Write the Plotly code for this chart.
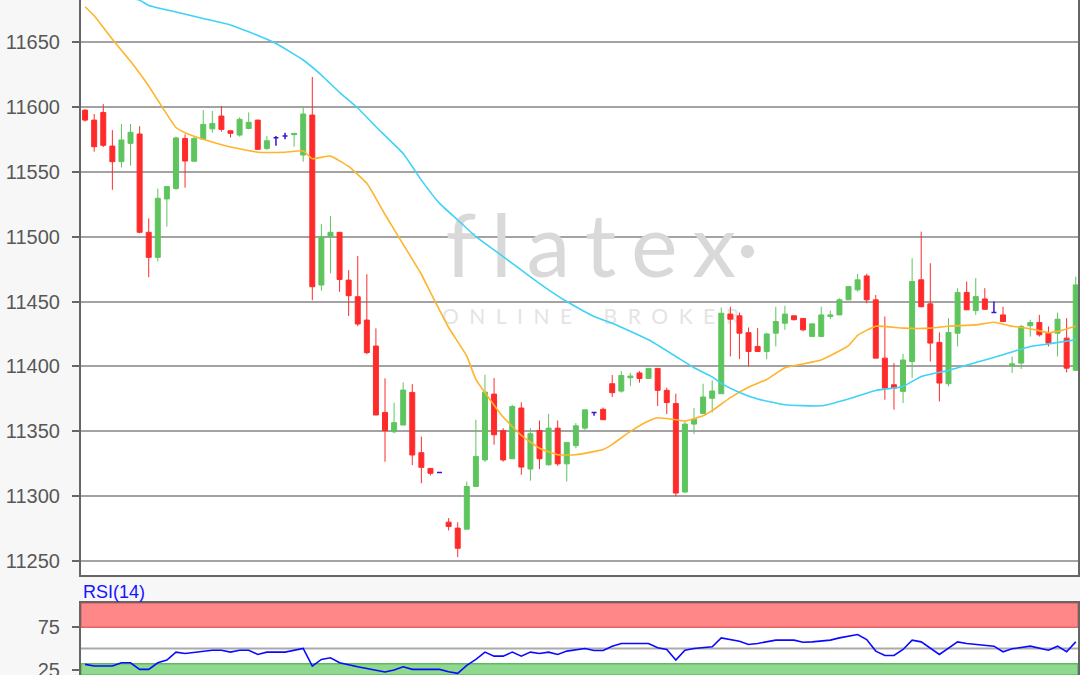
import plotly.graph_objects as go

# ---------------- data ----------------
opens = [11597.4, 11589.7, 11595.6, 11569.7, 11557.7, 11571.8, 11579.0, 11503.3, 11484.0, 11529.0,
         11537.0, 11575.6, 11558.0, 11575.0, 11583.0, 11592.8, 11581.5, 11578.2, 11583.3, 11589.7,
         11567.9, 11576.2, 11577.4, 11578.5, 11562.8, 11593.6, 11462.7, 11500.0, 11503.3, 11466.5,
         11453.7, 11435.7, 11415.7, 11364.6, 11349.7, 11354.9, 11380.0, 11333.6, 11321.5, 11318.4,
         11280.1, 11275.5, 11274.7, 11307.6, 11328.0, 11378.7, 11350.7, 11328.9, 11368.0, 11321.0,
         11350.7, 11324.3, 11352.5, 11325.0, 11339.0, 11352.5, 11364.6, 11367.0, 11386.7, 11381.0,
         11391.3, 11395.0, 11390.8, 11398.5, 11381.6, 11371.4, 11303.3, 11355.6, 11363.8, 11375.5,
         11379.0, 11440.3, 11439.0, 11426.0, 11415.4, 11411.5, 11425.6, 11433.3, 11439.0, 11437.0,
         11423.0, 11423.0, 11438.5, 11439.7, 11451.3, 11459.0, 11469.7, 11451.3, 11406.4, 11385.9,
         11380.8, 11403.8, 11466.7, 11448.2, 11418.5, 11386.7, 11425.6, 11457.0, 11443.0, 11452.0,
         11441.5, 11439.7, 11400.5, 11402.6, 11431.3, 11433.8, 11425.6, 11425.6, 11421.8, 11397.0]
highs = [11598.0, 11594.4, 11602.0, 11582.0, 11586.7, 11586.7, 11585.0, 11514.0, 11537.0, 11538.5,
         11577.0, 11578.7, 11577.0, 11597.4, 11596.7, 11600.5, 11581.5, 11591.8, 11595.6, 11590.0,
         11577.4, 11577.4, 11580.0, 11579.5, 11600.0, 11623.0, 11509.6, 11515.8, 11503.3, 11474.2,
         11485.0, 11471.0, 11429.3, 11390.8, 11372.0, 11387.7, 11386.4, 11346.0, 11321.5, 11318.4,
         11283.2, 11280.0, 11311.4, 11359.0, 11393.6, 11391.0, 11352.5, 11370.5, 11372.3, 11352.5,
         11358.4, 11363.5, 11358.4, 11341.5, 11356.4, 11366.6, 11364.6, 11368.3, 11393.4, 11396.4,
         11395.0, 11396.4, 11398.5, 11398.5, 11383.7, 11379.0, 11357.6, 11367.9, 11386.7, 11389.3,
         11445.4, 11446.0, 11441.5, 11430.0, 11429.5, 11426.0, 11446.0, 11446.7, 11439.0, 11437.0,
         11432.8, 11446.0, 11443.0, 11452.6, 11462.0, 11471.3, 11471.3, 11455.0, 11438.5, 11402.6,
         11409.7, 11483.3, 11503.8, 11479.5, 11426.2, 11437.2, 11460.3, 11465.4, 11468.0, 11460.3,
         11450.0, 11446.0, 11407.7, 11432.0, 11436.0, 11439.7, 11430.8, 11441.5, 11437.2, 11469.2]
lows = [11588.5, 11565.4, 11569.0, 11536.0, 11553.3, 11554.6, 11502.6, 11468.7, 11480.8, 11507.7,
        11536.0, 11537.7, 11558.0, 11575.0, 11580.0, 11580.8, 11576.4, 11577.0, 11582.6, 11567.0,
        11566.7, 11570.0, 11574.9, 11569.2, 11557.7, 11451.0, 11458.3, 11471.7, 11457.5, 11438.8,
        11431.0, 11409.5, 11362.6, 11326.6, 11348.5, 11354.9, 11324.0, 11310.0, 11316.0, 11318.4,
        11273.7, 11253.2, 11274.7, 11307.6, 11326.6, 11339.7, 11326.7, 11328.9, 11316.6, 11312.0,
        11321.0, 11323.5, 11323.5, 11311.4, 11337.0, 11351.2, 11362.0, 11359.0, 11376.5, 11379.8,
        11385.0, 11387.5, 11390.8, 11369.6, 11363.3, 11300.0, 11302.5, 11348.0, 11363.3, 11364.5,
        11379.0, 11407.7, 11405.6, 11400.0, 11411.5, 11405.6, 11415.4, 11428.2, 11435.4, 11427.0,
        11423.0, 11423.0, 11436.4, 11439.7, 11451.3, 11457.7, 11448.7, 11406.4, 11374.4, 11366.7,
        11371.8, 11391.0, 11445.6, 11403.8, 11373.0, 11384.6, 11415.4, 11443.6, 11439.7, 11443.6,
        11441.5, 11434.6, 11395.0, 11398.0, 11423.0, 11423.0, 11415.4, 11407.7, 11395.4, 11397.0]
closes = [11589.7, 11569.2, 11570.3, 11557.7, 11574.4, 11580.3, 11503.3, 11484.0, 11529.5, 11538.5,
          11576.0, 11558.2, 11575.6, 11586.4, 11587.0, 11582.6, 11579.5, 11590.3, 11588.0, 11567.2,
          11573.8, 11576.2, 11577.4, 11579.5, 11594.4, 11461.4, 11500.0, 11503.3, 11467.0, 11454.5,
          11432.7, 11410.6, 11362.6, 11350.5, 11356.7, 11381.8, 11331.8, 11322.3, 11317.7, 11318.4,
          11276.8, 11260.0, 11307.6, 11330.7, 11380.2, 11347.4, 11328.0, 11369.2, 11322.5, 11348.2,
          11328.9, 11352.5, 11325.0, 11341.5, 11354.3, 11366.6, 11364.6, 11359.0, 11379.8, 11393.0,
          11392.6, 11390.8, 11398.5, 11381.6, 11372.2, 11302.5, 11355.6, 11359.4, 11376.5, 11381.1,
          11441.0, 11436.4, 11425.6, 11411.5, 11411.5, 11425.0, 11434.6, 11440.3, 11436.0, 11428.2,
          11432.8, 11439.7, 11439.7, 11451.3, 11461.5, 11466.7, 11451.3, 11406.4, 11383.3, 11383.3,
          11405.0, 11465.4, 11446.0, 11418.0, 11387.2, 11426.2, 11457.0, 11443.6, 11453.8, 11444.0,
          11441.5, 11434.6, 11402.0, 11430.8, 11433.8, 11424.4, 11418.0, 11436.4, 11398.7, 11462.8]

ma_short_idx = [0, 1, 3, 5, 7, 8, 10, 11, 13, 16, 19, 22, 24, 25, 27, 29, 31, 33, 35, 37, 38, 40,
                42, 43, 46, 48, 50, 52, 54, 57, 58, 60, 62, 63, 65, 66, 68, 69, 71, 73, 75, 77, 81,
                84, 85, 87, 90, 93, 95, 98, 100, 102, 104, 106, 107, 109]
ma_short = [11677, 11670, 11652, 11635, 11616, 11605, 11584, 11580, 11575, 11569, 11565, 11565, 11566,
            11560, 11562, 11554, 11541, 11517, 11494, 11471, 11457, 11430, 11408, 11390, 11361, 11347,
            11337, 11332, 11332, 11336, 11340, 11350, 11358, 11360.5, 11359, 11358, 11362, 11366,
            11376, 11384, 11390, 11399, 11405, 11416, 11424, 11431, 11429.5, 11429.5, 11431, 11432,
            11434, 11431, 11429, 11426, 11427, 11431]

ma_long_idx = [0, 6, 7, 10, 13, 16, 18, 21, 24, 26, 28, 30, 32, 35, 37, 39, 41, 43, 46, 49, 51, 53,
               56, 58, 62, 65, 67, 69, 70, 72, 74, 77, 81, 84, 87, 90, 92, 95, 98, 101, 104, 106, 109]
ma_long = [11692, 11682, 11678, 11673, 11668, 11663, 11657.7, 11648.7, 11636, 11624.4, 11611, 11599,
           11584.6, 11564, 11543.5, 11525.6, 11512.8, 11500, 11484.6, 11469, 11459, 11450, 11438.5,
           11433.3, 11420.5, 11407.7, 11399, 11392, 11387, 11380, 11375, 11370.5, 11369.7, 11375,
           11381.5, 11384.6, 11392.3, 11397, 11403, 11409, 11415.4, 11417.4, 11420.5]

rsi_idx = [0, 1, 3, 4, 5, 6, 7, 8, 9, 10, 11, 13, 14, 15, 16, 17, 18, 19, 20, 22, 24, 25, 26, 27, 28,
           30, 33, 34, 35, 36, 39, 40, 41, 42, 43, 44, 45, 46, 47, 48, 49, 50, 51, 52, 53, 55, 56, 57,
           58, 59, 62, 63, 64, 65, 66, 67, 69, 70, 72, 73, 74, 76, 78, 79, 80, 82, 83, 85, 86, 87, 88,
           89, 90, 91, 92, 94, 96, 97, 98, 100, 101, 102, 104, 106, 107, 108, 109]
rsi_val = [31.3, 29.3, 29.3, 33.2, 33.2, 25.4, 25.4, 33.2, 36.3, 45.7, 44.1, 46.9, 48, 48, 45.7, 48, 48,
           43, 45.7, 45.7, 50, 29.3, 37.1, 39, 33.2, 28.5, 22.3, 24.6, 28.5, 25.4, 25.4, 22.7, 20.7,
           30.1, 37.1, 45.7, 41, 41, 45.7, 41, 45.7, 44.1, 45.7, 43, 46.9, 50, 47.7, 47.7, 52.7, 55.9,
           55.9, 50.8, 48.8, 36.3, 48, 50, 52, 62.5, 58.6, 54.7, 55.9, 59.8, 59.8, 57.4, 57.8, 59.8,
           62.5, 66.4, 60.5, 46.9, 41.8, 41.8, 48.8, 59.8, 57.8, 43, 57.8, 55.9, 54.7, 52.7, 46.1,
           49.6, 52.7, 48, 52.7, 46.1, 57.8]

price_ticks = [11250, 11300, 11350, 11400, 11450, 11500, 11550, 11600, 11650]
rsi_ticks = [25, 75]

# ---------------- styles ----------------
UP = "#5ec55e"
DOWN = "#ff2b2b"
DOJI = "#3a14d0"
FRAME = "#666666"
GRID = "#a3a3a3"
TICKFONT = dict(family="Liberation Sans, Arial, sans-serif", size=20, color="#585858")

idx = list(range(len(opens)))
reg = [i for i in idx if opens[i] != closes[i]]
doj = [i for i in idx if opens[i] == closes[i]]

fig = go.Figure()

# watermark on base axes (beneath the candles, which live on overlaying axes)
SP = "\u2006"
fig.add_trace(go.Scatter(
    x=[56.9], y=[11486], mode="text",
    text=[SP.join("flatex") + "\u00b7"],
    textfont=dict(family="Lato, Open Sans, sans-serif", size=88, color="#d9d9d9", weight=400),
    hoverinfo="skip", showlegend=False, xaxis="x", yaxis="y"))
EN = "\u2002"
fig.add_trace(go.Scatter(
    x=[55.6], y=[11436.5], mode="text",
    text=[EN.join("ONLINE") + EN * 3 + EN.join("BROKER")],
    textfont=dict(family="Lato, Open Sans, sans-serif", size=21, color="#e4e4e4"),
    hoverinfo="skip", showlegend=False, xaxis="x", yaxis="y"))

fig.add_trace(go.Candlestick(
    x=reg,
    open=[opens[i] for i in reg], high=[highs[i] for i in reg],
    low=[lows[i] for i in reg], close=[closes[i] for i in reg],
    increasing=dict(line=dict(color=UP, width=1), fillcolor=UP),
    decreasing=dict(line=dict(color=DOWN, width=1), fillcolor=DOWN),
    whiskerwidth=0, showlegend=False, xaxis="x3", yaxis="y3"))
fig.add_trace(go.Candlestick(
    x=doj,
    open=[opens[i] for i in doj], high=[highs[i] for i in doj],
    low=[lows[i] for i in doj], close=[closes[i] for i in doj],
    increasing=dict(line=dict(color=DOJI, width=1.5), fillcolor=DOJI),
    decreasing=dict(line=dict(color=DOJI, width=1.5), fillcolor=DOJI),
    whiskerwidth=0, showlegend=False, xaxis="x3", yaxis="y3"))

fig.add_trace(go.Scatter(x=ma_short_idx, y=ma_short, mode="lines",
                         line=dict(color="#ffb42a", width=1.6, shape="spline", smoothing=0.4),
                         showlegend=False, xaxis="x3", yaxis="y3"))
fig.add_trace(go.Scatter(x=ma_long_idx, y=ma_long, mode="lines",
                         line=dict(color="#3fd2f7", width=1.6, shape="spline", smoothing=0.4),
                         showlegend=False, xaxis="x3", yaxis="y3"))

fig.add_trace(go.Scatter(x=rsi_idx, y=rsi_val, mode="lines",
                         line=dict(color="#0a0aff", width=1.6),
                         showlegend=False, xaxis="x2", yaxis="y2"))

XR = [-0.45, 109.25]
YR = [11239.4, 11682.2]
RR = [18.8, 103.5]
main_dom = [100 / 675, 1.0]
rsi_dom = [0.0, 72 / 675]

fig.update_layout(
    width=1080, height=675,
    margin=dict(l=81, r=2, t=0, b=0, autoexpand=False),
    paper_bgcolor="#f7f7f7", plot_bgcolor="#ffffff",
    boxgap=0.22,
    showlegend=False,
    xaxis=dict(domain=[0, 1], range=XR, anchor="y", showgrid=False, zeroline=False,
               showticklabels=False, ticks="", showline=True, linecolor=FRAME, linewidth=2,
               rangeslider=dict(visible=False), automargin=False),
    yaxis=dict(domain=main_dom, range=YR, anchor="x", tickvals=price_ticks, tickformat="d",
               ticks="outside", ticklen=7, tickwidth=1.5, tickcolor=FRAME,
               ticklabelstandoff=8, tickfont=TICKFONT, automargin=False,
               ticklabeloverflow="allow",
               showgrid=True, gridcolor=GRID, gridwidth=2, zeroline=False,
               showline=True, linecolor=FRAME, linewidth=2, mirror=True),
    xaxis3=dict(overlaying="x", range=XR, anchor="y3", visible=False,
                rangeslider=dict(visible=False), automargin=False),
    yaxis3=dict(overlaying="y", range=YR, anchor="x3", visible=False, automargin=False),
    xaxis2=dict(domain=[0, 1], range=XR, anchor="y2", side="top", showgrid=False,
                zeroline=False, showticklabels=False, ticks="", showline=True,
                linecolor=FRAME, linewidth=2, automargin=False),
    yaxis2=dict(domain=rsi_dom, range=RR, anchor="x2", tickvals=rsi_ticks, tickformat="d",
                ticks="outside", ticklen=7, tickwidth=1.5, tickcolor=FRAME,
                ticklabelstandoff=8, tickfont=TICKFONT, automargin=False,
                ticklabeloverflow="allow",
                showgrid=False, zeroline=False, showline=True, linecolor=FRAME,
                linewidth=2, mirror=True),
    shapes=[
        dict(type="rect", xref="x2 domain", yref="y2", x0=0, x1=1, y0=75, y1=RR[1],
             fillcolor="#ff8787", line=dict(color="#e36464", width=1.5), layer="below"),
        dict(type="rect", xref="x2 domain", yref="y2", x0=0, x1=1, y0=RR[0], y1=32,
             fillcolor="#8ed98e", line=dict(color="#63b863", width=1.5), layer="below"),
        dict(type="line", xref="x2 domain", yref="y2", x0=0, x1=1, y0=50, y1=50,
             line=dict(color="#aaaaaa", width=2), layer="below"),
    ],
    annotations=[
        dict(text="RSI(14)", xref="paper", yref="paper", x=0, y=1 - 592 / 675,
             xanchor="left", yanchor="middle", showarrow=False,
             font=dict(family="Liberation Sans, Arial, sans-serif", size=18, color="#1414ff")),
    ],
)

fig.write_html(
    "out.html",
    config={"displayModeBar": False},
    post_script="document.body.style.margin='0';document.body.style.overflow='hidden';",
)
